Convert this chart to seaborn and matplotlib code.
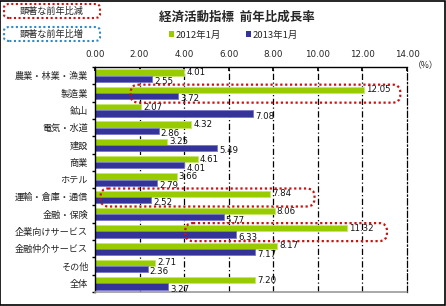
import matplotlib
matplotlib.use("Agg")
import matplotlib.pyplot as plt
import seaborn as sns
import pandas as pd
from matplotlib.patches import FancyBboxPatch, Rectangle, Patch

categories = ["農業・林業・漁業", "製造業", "鉱山", "電気・水道", "建設", "商業", "ホテル",
              "運輸・倉庫・通信", "金融・保険", "企業向けサービス", "金融仲介サービス", "その他", "全体"]
v2012 = [4.01, 12.05, 2.07, 4.32, 3.25, 4.61, 3.66, 7.84, 8.06, 11.32, 8.17, 2.71, 7.20]
v2013 = [2.55, 3.72, 7.08, 2.86, 5.49, 4.01, 2.79, 2.52, 5.77, 6.33, 7.17, 2.36, 3.27]
series = ["2012年1月", "2013年1月"]
xticks = [0, 2, 4, 6, 8, 10, 12, 14]
title = "経済活動指標  前年比成長率"
unit = "（%）"
note_dec = "顕著な前年比減"
note_inc = "顕著な前年比増"
highlight = ["製造業", "運輸・倉庫・通信", "企業向けサービス"]

sns.set_theme(style="white")
plt.rcParams["font.family"] = ["Noto Sans CJK JP", "DejaVu Sans"]

df = pd.DataFrame({
    "cat": categories * 2,
    "val": v2012 + v2013,
    "series": [series[0]] * len(categories) + [series[1]] * len(categories),
})

fig = plt.figure(figsize=(4.46, 3.06), dpi=100)
ax = fig.add_axes([95 / 446, 1 - 292 / 306, 312 / 446, 225 / 306])
colors = {series[0]: "#99CC00", series[1]: "#333399"}
sns.barplot(data=df, y="cat", x="val", hue="series", order=categories, hue_order=series,
            palette=colors, orient="h", ax=ax, width=0.72, legend=False, saturation=1)
for k, (bars, ec) in enumerate(zip(ax.containers, ["#C4E86A", "#7777CC"])):
    for b in bars:
        b.set_edgecolor(ec)
        b.set_linewidth(0.6)
    labels = ax.bar_label(bars, fmt="%.2f", padding=1.5, fontsize=6.2, color="#111111",
                          family="DejaVu Sans")
    if k == 1:
        for t in labels:
            x, y = t.xyann
            t.xyann = (x, y - 2)

ax.set_xlim(0, 14)
ax.set_ylim(len(categories) - 0.5, -0.5)
ax.set_xticks(xticks)
ax.set_xticklabels([f"{t:.2f}" for t in xticks], fontsize=6.3, family="DejaVu Sans")
ax.xaxis.tick_top()
ax.tick_params(axis="x", which="major", direction="in", length=3, pad=5.5, color="black", top=True)
ax.set_yticks(range(len(categories)))
ax.set_yticklabels(categories, fontsize=6.6)
ax.tick_params(axis="y", which="major", length=0, pad=5)
ax.set_yticks([i + 0.5 for i in range(-1, len(categories))], minor=True)
ax.tick_params(axis="y", which="minor", length=2.5, direction="out", color="black", left=True)
ax.set_xlabel("")
ax.set_ylabel("")
for xv in xticks[1:-1]:
    ax.axvline(xv, color="black", lw=0.9, ls=(0, (5, 2, 1, 2)), zorder=0)
for s in ["left", "top"]:
    ax.spines[s].set_color("black")
    ax.spines[s].set_linewidth(1)
ax.spines["right"].set_color("black")
ax.spines["right"].set_linestyle((0, (5, 2, 1, 2)))
ax.spines["right"].set_linewidth(0.9)
ax.spines["bottom"].set_color("#999999")
ax.spines["bottom"].set_linestyle((0, (1, 1)))
ax.spines["bottom"].set_linewidth(1.2)

# highlight boxes (data coords)
hl_extent = {"製造業": (1.6, 13.7), "運輸・倉庫・通信": (0.25, 9.85), "企業向けサービス": (4.05, 13.1)}
for c in highlight:
    i = categories.index(c)
    x0, x1 = hl_extent[c]
    p = FancyBboxPatch((x0, i - 0.48), x1 - x0, 1.04,
                       boxstyle="round,pad=0,rounding_size=0.35", mutation_aspect=22.3 / 17.3,
                       fill=False, ec="#CC1111", lw=1.6, ls=(0, (1, 1.2)), zorder=5, clip_on=False)
    ax.add_patch(p)

fig.text(0.53, 1 - 17 / 306, title, ha="center", va="center", fontsize=9, fontweight="bold")
handles = [Patch(fc=colors[s], ec="none") for s in series]
fig.legend(handles, series, loc="center", bbox_to_anchor=(0.523, 1 - 35 / 306), ncol=2,
           frameon=False, fontsize=6.8, handlelength=0.55, handleheight=0.55,
           handletextpad=0.2, columnspacing=2.6, borderpad=0)
fig.text(0.955, 1 - 66 / 306, unit, ha="center", va="center", fontsize=6.3)

# note boxes
for (y0, txt, col) in [(4, note_dec, "#CC1111"), (27, note_inc, "#2E8BC8")]:
    b = FancyBboxPatch((4 / 446, 1 - (y0 + 14) / 306), 96 / 446, 14 / 306,
                       boxstyle="round,pad=0,rounding_size=0.012", transform=fig.transFigure,
                       fill=False, ec=col, lw=1.5, ls=(0, (1, 1.2)))
    fig.patches.append(b)
    fig.text(52 / 446, 1 - (y0 + 7) / 306, txt, ha="center", va="center", fontsize=6.6)

fig.patches.append(Rectangle((0.001, 0.002), 0.997, 0.996, transform=fig.transFigure,
                             fill=False, ec="black", lw=1.2))

fig.savefig("out.png", dpi=100)
